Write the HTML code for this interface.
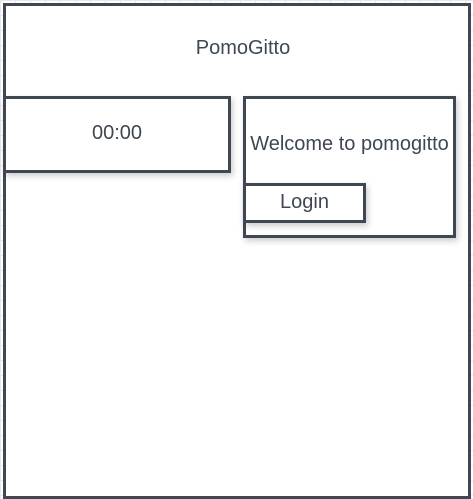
<!DOCTYPE html>
<html><head><style>
html,body{margin:0;padding:0;width:473px;height:499px;overflow:hidden;background:#fff;
background-image:linear-gradient(#e8e8e8 1px,transparent 1px),linear-gradient(90deg,#e8e8e8 1px,transparent 1px);background-size:15px 15px;}
.b{position:absolute;box-sizing:border-box;border:3px solid #3f4852;background:#fff;font-family:"Liberation Sans",sans-serif;color:#3f4852;text-align:center;}
.s{box-shadow:2px 3px 6px rgba(0,0,0,0.2);}
</style></head><body>
<div class="b" style="left:3px;top:3px;width:468px;height:496px;"></div>
<div style="position:absolute;left:9px;top:37px;width:468px;text-align:center;font-family:'Liberation Sans',sans-serif;font-size:20px;color:#3f4852;">PomoGitto</div>
<div class="b s" style="left:3px;top:96px;width:228px;height:77px;font-size:20px;line-height:68px;">00:00</div>
<div class="b s" style="left:243px;top:96px;width:213px;height:142px;"><div style="position:absolute;left:0;right:0;top:34px;font-size:20px;white-space:nowrap;">Welcome to pomogitto</div></div>
<div class="b s" style="left:243px;top:183px;width:123px;height:40px;font-size:20px;line-height:33px;">Login</div>
</body></html>
